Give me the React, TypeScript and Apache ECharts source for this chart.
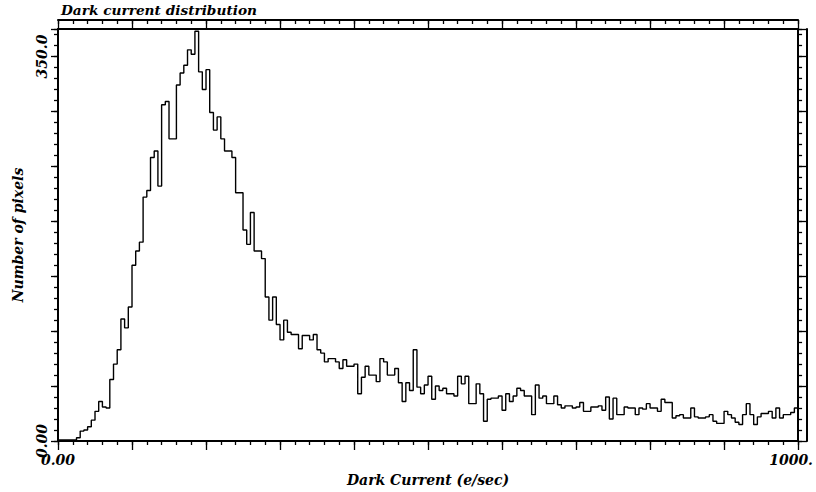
import React, { useEffect, useRef } from 'react';
import * as echarts from 'echarts';

const TITLE = 'Dark current distribution';
const X_NAME = 'Dark Current (e/sec)';
const Y_NAME = 'Number of pixels';

const BIN_WIDTH = 5; // e/sec per histogram bin
const X_MIN = 0;
const X_MAX = 1000;
const Y_MIN = 0;
const Y_MAX = 375;

const X_TICK_LABELS: Record<string, string> = { '0': '0.00', '1000': '1000.' };
const Y_TICK_LABELS: Record<string, string> = { '0': '0.00', '350': '350.0' };

// pixel counts per 5 e/sec bin, 0 .. 1000 e/sec
const counts = [
  1, 1, 1, 1, 1, 3, 9, 10, 13, 19,
  27, 36, 31, 30, 56, 70, 83, 111, 103, 122,
  160, 173, 181, 222, 228, 258, 264, 232, 306, 309,
  275, 275, 324, 335, 342, 356, 352, 373, 336, 320,
  338, 299, 283, 295, 275, 264, 264, 258, 226, 226,
  192, 179, 208, 173, 173, 166, 131, 110, 131, 106,
  92, 110, 99, 97, 97, 84, 96, 96, 92, 97,
  83, 80, 72, 75, 75, 72, 66, 74, 68, 68,
  70, 43, 58, 68, 60, 60, 54, 75, 72, 60,
  60, 66, 53, 36, 53, 46, 83, 49, 43, 51,
  59, 38, 50, 46, 48, 43, 43, 41, 59, 52,
  59, 34, 34, 52, 43, 18, 38, 39, 39, 41,
  28, 43, 36, 41, 48, 46, 41, 41, 24, 51,
  39, 41, 34, 34, 41, 33, 30, 32, 32, 30,
  31, 35, 27, 27, 31, 31, 32, 28, 40, 20,
  39, 24, 24, 31, 30, 30, 24, 30, 29, 34,
  30, 30, 27, 38, 35, 35, 21, 23, 24, 21,
  21, 30, 22, 21, 21, 22, 24, 18, 16, 16,
  27, 24, 21, 17, 15, 24, 34, 24, 15, 22,
  25, 25, 27, 21, 30, 21, 24, 24, 26, 30,
];

const FONT = 'DejaVu Serif';
const INK = '#000';

export default function App() {
  const ref = useRef<HTMLDivElement>(null);

  useEffect(() => {
    if (!ref.current) return;
    const chart = echarts.init(ref.current, undefined, { renderer: 'svg' });

    const stepData: [number, number][] = counts.map((c, i) => [i * BIN_WIDTH, c]);
    stepData.push([counts.length * BIN_WIDTH, counts[counts.length - 1]]);

    const textStyle = {
      fontFamily: FONT,
      fontStyle: 'italic' as const,
      fontWeight: 'bold' as const,
      color: INK,
    };
    const lineStyle = { color: INK, width: 2 };
    const tickStyle = { color: INK, width: 1.3 };
    const hidden = {
      axisLabel: { show: false },
      splitLine: { show: false },
      minorSplitLine: { show: false },
    };

    // x axes: [0] main bottom, [1] bottom minor ticks, [2] top inner line,
    // [3] top outer ruler (major), [4] top outer ruler (minor)
    const xBase = { type: 'value' as const, min: X_MIN, max: X_MAX };
    const yBase = { type: 'value' as const, min: Y_MIN, max: Y_MAX };

    chart.setOption({
      animation: false,
      backgroundColor: '#fff',
      title: {
        text: TITLE,
        left: 61,
        top: 3,
        padding: 0,
        textStyle: { ...textStyle, fontSize: 13.7 },
      },
      grid: { left: 58, right: 13, top: 29, bottom: 49, containLabel: false },
      xAxis: [
        {
          ...xBase,
          position: 'bottom',
          interval: 100,
          axisLine: { show: true, onZero: false, lineStyle },
          axisTick: { show: true, inside: false, length: 9, lineStyle: tickStyle },
          splitLine: { show: false },
          axisLabel: {
            margin: 12,
            ...textStyle,
            fontSize: 14,
            formatter: (v: number) => {
              const t = X_TICK_LABELS[String(v)];
              if (!t) return '';
              return v === X_MAX ? `{r|${t}}` : t;
            },
            rich: { r: { ...textStyle, fontSize: 14, padding: [0, 14, 0, 0] } },
          },
          name: X_NAME,
          nameLocation: 'middle',
          nameGap: 32,
          nameTextStyle: { ...textStyle, fontSize: 14 },
        },
        {
          ...xBase,
          ...hidden,
          position: 'bottom',
          interval: 20,
          axisLine: { show: false, onZero: false },
          axisTick: { show: true, inside: false, length: 4, lineStyle: tickStyle },
        },
        {
          ...xBase,
          ...hidden,
          position: 'top',
          interval: 100,
          axisLine: { show: true, onZero: false, lineStyle },
          axisTick: { show: false },
        },
        {
          ...xBase,
          ...hidden,
          position: 'top',
          offset: 9,
          interval: 100,
          axisLine: { show: true, onZero: false, lineStyle },
          axisTick: { show: true, inside: true, length: 9, lineStyle: tickStyle },
        },
        {
          ...xBase,
          ...hidden,
          position: 'top',
          offset: 9,
          interval: 20,
          axisLine: { show: false, onZero: false },
          axisTick: { show: true, inside: true, length: 4, lineStyle: tickStyle },
        },
      ],
      yAxis: [
        {
          ...yBase,
          position: 'left',
          interval: 50,
          axisLine: { show: true, onZero: false, lineStyle },
          axisTick: { show: true, inside: false, length: 7, lineStyle: tickStyle },
          splitLine: { show: false },
          axisLabel: {
            rotate: 90,
            margin: 9,
            ...textStyle,
            fontSize: 14,
            formatter: (v: number) => Y_TICK_LABELS[String(v)] || '',
          },
          name: Y_NAME,
          nameLocation: 'middle',
          nameRotate: 90,
          nameGap: 33,
          nameTextStyle: { ...textStyle, fontSize: 14 },
        },
        {
          ...yBase,
          ...hidden,
          position: 'left',
          interval: 10,
          axisLine: { show: false, onZero: false },
          axisTick: { show: true, inside: false, length: 4, lineStyle: tickStyle },
        },
        {
          ...yBase,
          ...hidden,
          position: 'right',
          interval: 50,
          axisLine: { show: true, onZero: false, lineStyle },
          axisTick: { show: true, inside: false, length: 9, lineStyle: tickStyle },
        },
        {
          ...yBase,
          ...hidden,
          position: 'right',
          interval: 10,
          axisLine: { show: false, onZero: false },
          axisTick: { show: true, inside: false, length: 4, lineStyle: tickStyle },
        },
        {
          ...yBase,
          ...hidden,
          position: 'right',
          offset: 9,
          axisLine: { show: true, onZero: false, lineStyle },
          axisTick: { show: false },
        },
      ],
      series: [
        {
          type: 'line',
          xAxisIndex: 0,
          yAxisIndex: 0,
          step: 'end',
          data: stepData,
          showSymbol: false,
          symbol: 'none',
          lineStyle: { color: INK, width: 1.4 },
          silent: true,
        },
      ],
    });

    return () => chart.dispose();
  }, []);

  return (
    <div
      ref={ref}
      style={{ position: 'fixed', left: 0, top: 0, width: 816, height: 492, background: '#fff' }}
    />
  );
}
